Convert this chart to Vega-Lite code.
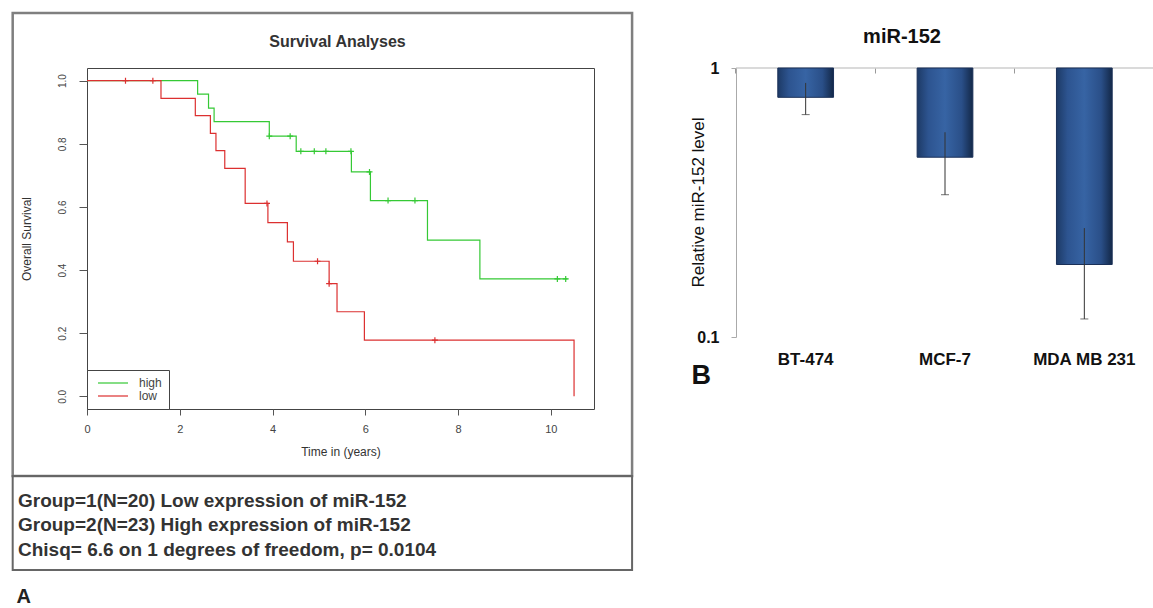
{
  "$schema": "https://vega.github.io/schema/vega-lite/v6.json",
  "background": "white",
  "padding": {"left": 10, "top": 11, "right": 0, "bottom": 0},
  "bounds": "flush",
  "spacing": 142,
  "config": {"font": "Liberation Sans"},
  "datasets": {
    "km": [
      {"group": "high", "time": 0, "surv": 1},
      {"group": "high", "time": 2.385, "surv": 0.957},
      {"group": "high", "time": 2.62, "surv": 0.913},
      {"group": "high", "time": 2.74, "surv": 0.87},
      {"group": "high", "time": 3.93, "surv": 0.824},
      {"group": "high", "time": 4.51, "surv": 0.776},
      {"group": "high", "time": 5.7, "surv": 0.711},
      {"group": "high", "time": 6.11, "surv": 0.62},
      {"group": "high", "time": 7.34, "surv": 0.495},
      {"group": "high", "time": 8.47, "surv": 0.372},
      {"group": "high", "time": 10.36, "surv": 0.372},
      {"group": "low", "time": 0, "surv": 1},
      {"group": "low", "time": 1.595, "surv": 0.944},
      {"group": "low", "time": 2.335, "surv": 0.889},
      {"group": "low", "time": 2.66, "surv": 0.833},
      {"group": "low", "time": 2.78, "surv": 0.778},
      {"group": "low", "time": 2.97, "surv": 0.722},
      {"group": "low", "time": 3.41, "surv": 0.611},
      {"group": "low", "time": 3.9, "surv": 0.55},
      {"group": "low", "time": 4.32, "surv": 0.489},
      {"group": "low", "time": 4.45, "surv": 0.428},
      {"group": "low", "time": 5.22, "surv": 0.357},
      {"group": "low", "time": 5.39, "surv": 0.268},
      {"group": "low", "time": 5.98, "surv": 0.178},
      {"group": "low", "time": 10.5, "surv": 0.0}
    ],
    "censor": [
      {"group": "low", "time": 0.83, "surv": 1.0},
      {"group": "low", "time": 1.42, "surv": 1.0},
      {"group": "low", "time": 3.88, "surv": 0.611},
      {"group": "low", "time": 4.97, "surv": 0.428},
      {"group": "low", "time": 5.22, "surv": 0.357},
      {"group": "low", "time": 7.5, "surv": 0.178},
      {"group": "high", "time": 3.93, "surv": 0.824},
      {"group": "high", "time": 4.38, "surv": 0.824},
      {"group": "high", "time": 4.61, "surv": 0.776},
      {"group": "high", "time": 4.9, "surv": 0.776},
      {"group": "high", "time": 5.15, "surv": 0.776},
      {"group": "high", "time": 5.69, "surv": 0.776},
      {"group": "high", "time": 6.09, "surv": 0.711},
      {"group": "high", "time": 6.49, "surv": 0.62},
      {"group": "high", "time": 7.07, "surv": 0.62},
      {"group": "high", "time": 10.14, "surv": 0.372},
      {"group": "high", "time": 10.32, "surv": 0.372}
    ],
    "expr": [
      {"cell": "BT-474", "value": 0.778, "lo": 0.671, "hi": 0.88},
      {"cell": "MCF-7", "value": 0.466, "lo": 0.338, "hi": 0.577},
      {"cell": "MDA MB 231", "value": 0.186, "lo": 0.1167, "hi": 0.254}
    ]
  },
  "hconcat": [
    {
      "width": 507,
      "height": 341,
      "view": {"stroke": "#444", "strokeWidth": 1},
      "layer": [
        {
          "data": {"values": [{}]},
          "mark": {"type": "rect", "fill": null, "stroke": "#7f7f7f", "strokeWidth": 2.5},
          "encoding": {
            "x": {"datum": -1.602, "type": "quantitative", "scale": {"domain": [0, 10.93], "nice": false, "zero": false}, "axis": {"values": [0, 2, 4, 6, 8, 10], "domain": false, "grid": false, "tickSize": 6, "tickColor": "#555", "labelFontSize": 11, "labelColor": "#444", "labelPadding": 8, "labelFlush": false, "labelOverlap": false, "title": "Time in (years)", "titleFontSize": 12, "titleFontWeight": "normal", "titleColor": "#333", "titlePadding": 12}},
            "x2": {"datum": 11.751},
            "y": {"datum": 1.214, "type": "quantitative", "scale": {"domain": [-0.04, 1.04], "nice": false, "zero": false}, "axis": {"values": [0, 0.2, 0.4, 0.6, 0.8, 1], "format": ".1f", "domain": false, "grid": false, "tickSize": 8, "tickColor": "#555", "labelFontSize": 10, "labelColor": "#444", "labelAngle": 270, "labelAlign": "center", "labelBaseline": "alphabetic", "labelPadding": 14, "title": "Overall Survival", "titleFontSize": 12, "titleFontWeight": "normal", "titleColor": "#333", "titleAngle": 270, "titleX": -61, "titleY": 170.5, "titleAlign": "center", "titleBaseline": "middle"}},
            "y2": {"datum": -0.252}
          }
        },
        {
          "data": {"values": [{}]},
          "mark": {"type": "rect", "fill": null, "stroke": "#666", "strokeWidth": 2},
          "encoding": {
            "x": {"datum": -1.602, "type": "quantitative"},
            "x2": {"datum": 11.751},
            "y": {"datum": -0.252, "type": "quantitative"},
            "y2": {"datum": -0.55}
          }
        },
        {
          "data": {"name": "km"},
          "mark": {"type": "line", "interpolate": "step-after", "strokeWidth": 1.2},
          "encoding": {
            "x": {"field": "time", "type": "quantitative"},
            "y": {"field": "surv", "type": "quantitative"},
            "color": {"field": "group", "type": "nominal", "scale": {"domain": ["high", "low"], "range": ["#35c935", "#dc3030"]},
              "legend": {"orient": "none", "legendX": 0, "legendY": 302, "title": null, "symbolType": "M-3,0H3", "symbolSize": 100, "symbolStrokeWidth": 1.2, "symbolOffset": 13, "labelOffset": 20, "labelFontSize": 12, "labelColor": "#444", "strokeColor": "#444", "fillColor": "white", "padding": 7, "rowPadding": 1}}
          }
        },
        {
          "data": {"name": "censor"},
          "mark": {"type": "point", "shape": "M-1,0H1M0,-1V1", "filled": false, "size": 36, "strokeWidth": 1.2, "opacity": 1},
          "encoding": {
            "x": {"field": "time", "type": "quantitative"},
            "y": {"field": "surv", "type": "quantitative"},
            "color": {"field": "group", "type": "nominal", "legend": null}
          }
        },
        {
          "data": {"values": [{}]},
          "mark": {"type": "text", "text": "Survival Analyses", "align": "center", "baseline": "alphabetic", "fontSize": 16, "fontWeight": "bold", "color": "#333"},
          "encoding": {
            "x": {"datum": 5.4, "type": "quantitative"},
            "y": {"datum": 1.108, "type": "quantitative"}
          }
        },
        {
          "data": {"values": [{}]},
          "mark": {"type": "text", "text": ["Group=1(N=20) Low expression of miR-152", "Group=2(N=23) High expression of miR-152", "Chisq= 6.6 on 1 degrees of freedom, p= 0.0104"], "align": "left", "baseline": "alphabetic", "fontSize": 19, "fontWeight": "bold", "lineHeight": 24.5, "color": "#333"},
          "encoding": {
            "x": {"datum": -1.488, "type": "quantitative"},
            "y": {"datum": -0.35, "type": "quantitative"}
          }
        },
        {
          "data": {"values": [{}]},
          "mark": {"type": "text", "text": "A", "align": "left", "baseline": "alphabetic", "fontSize": 20, "fontWeight": "bold", "color": "#222"},
          "encoding": {
            "x": {"datum": -1.52, "type": "quantitative"},
            "y": {"datum": -0.654, "type": "quantitative"}
          }
        }
      ]
    },
    {
      "width": 418,
      "height": 269,
      "view": {"stroke": null},
      "data": {"name": "expr"},
      "layer": [
        {
          "data": {"values": [{}]},
          "mark": {"type": "rule", "color": "#b5b5b5", "strokeWidth": 1},
          "encoding": {
            "y": {"datum": 1, "type": "quantitative", "scale": {"type": "log", "domain": [0.1, 1], "nice": false}, "axis": {"orient": "left", "values": [0.1, 1], "format": "~g", "domain": true, "domainColor": "#aaa", "ticks": true, "tickSize": 5, "tickColor": "#aaa", "grid": false, "labelFontSize": 16, "labelFontWeight": "bold", "labelColor": "#111", "labelPadding": 12, "title": "Relative miR-152 level", "titleFontSize": 17, "titleFontWeight": "normal", "titleColor": "#111", "titleAngle": 270, "titleX": -38, "titleY": 134, "titleAlign": "center", "titleBaseline": "middle"}}
          }
        },
        {
          "mark": {"type": "bar", "fill": {"gradient": "linear", "x1": 0, "y1": 0, "x2": 1, "y2": 0, "stops": [{"offset": 0, "color": "#1d3a66"}, {"offset": 0.2, "color": "#2d5490"}, {"offset": 0.5, "color": "#3764a4"}, {"offset": 0.8, "color": "#2a4f88"}, {"offset": 1, "color": "#132848"}]}, "stroke": "#1a3058", "strokeWidth": 1},
          "encoding": {
            "x": {"field": "cell", "type": "nominal", "sort": null, "scale": {"paddingInner": 0.6, "paddingOuter": 0.3}, "axis": {"orient": "bottom", "domain": false, "ticks": false, "tickSize": 0, "labelAngle": 0, "labelFontSize": 17, "labelFontWeight": "bold", "labelColor": "#111", "labelPadding": 14, "title": "B", "titleFontSize": 27, "titleFontWeight": "bold", "titleColor": "#111", "titleAnchor": "start", "titleAlign": "left", "titleX": -45, "titleY": 46, "titleBaseline": "alphabetic"}},
            "y": {"field": "value", "type": "quantitative"},
            "y2": {"datum": 1}
          }
        },
        {
          "mark": {"type": "rule", "color": "#333", "strokeWidth": 1},
          "encoding": {
            "x": {"field": "cell", "type": "nominal", "sort": null, "axis": {"orient": "top", "domain": false, "labels": false, "ticks": true, "tickSize": -5, "tickColor": "#999", "bandPosition": -0.75, "title": null}},
            "y": {"field": "lo", "type": "quantitative"},
            "y2": {"field": "hi"}
          }
        },
        {
          "mark": {"type": "tick", "color": "#333", "size": 8, "thickness": 1, "orient": "horizontal"},
          "encoding": {
            "x": {"field": "cell", "type": "nominal", "sort": null, "axis": null},
            "y": {"field": "lo", "type": "quantitative"}
          }
        },
        {
          "data": {"values": [{}]},
          "mark": {"type": "text", "text": "miR-152", "align": "center", "baseline": "alphabetic", "fontSize": 20, "fontWeight": "bold", "color": "#111", "dx": -43},
          "encoding": {
            "x": {"datum": "MCF-7", "type": "nominal", "axis": null},
            "y": {"datum": 1.235, "type": "quantitative"}
          }
        }
      ],
      "resolve": {"axis": {"x": "independent"}}
    }
  ]
}
